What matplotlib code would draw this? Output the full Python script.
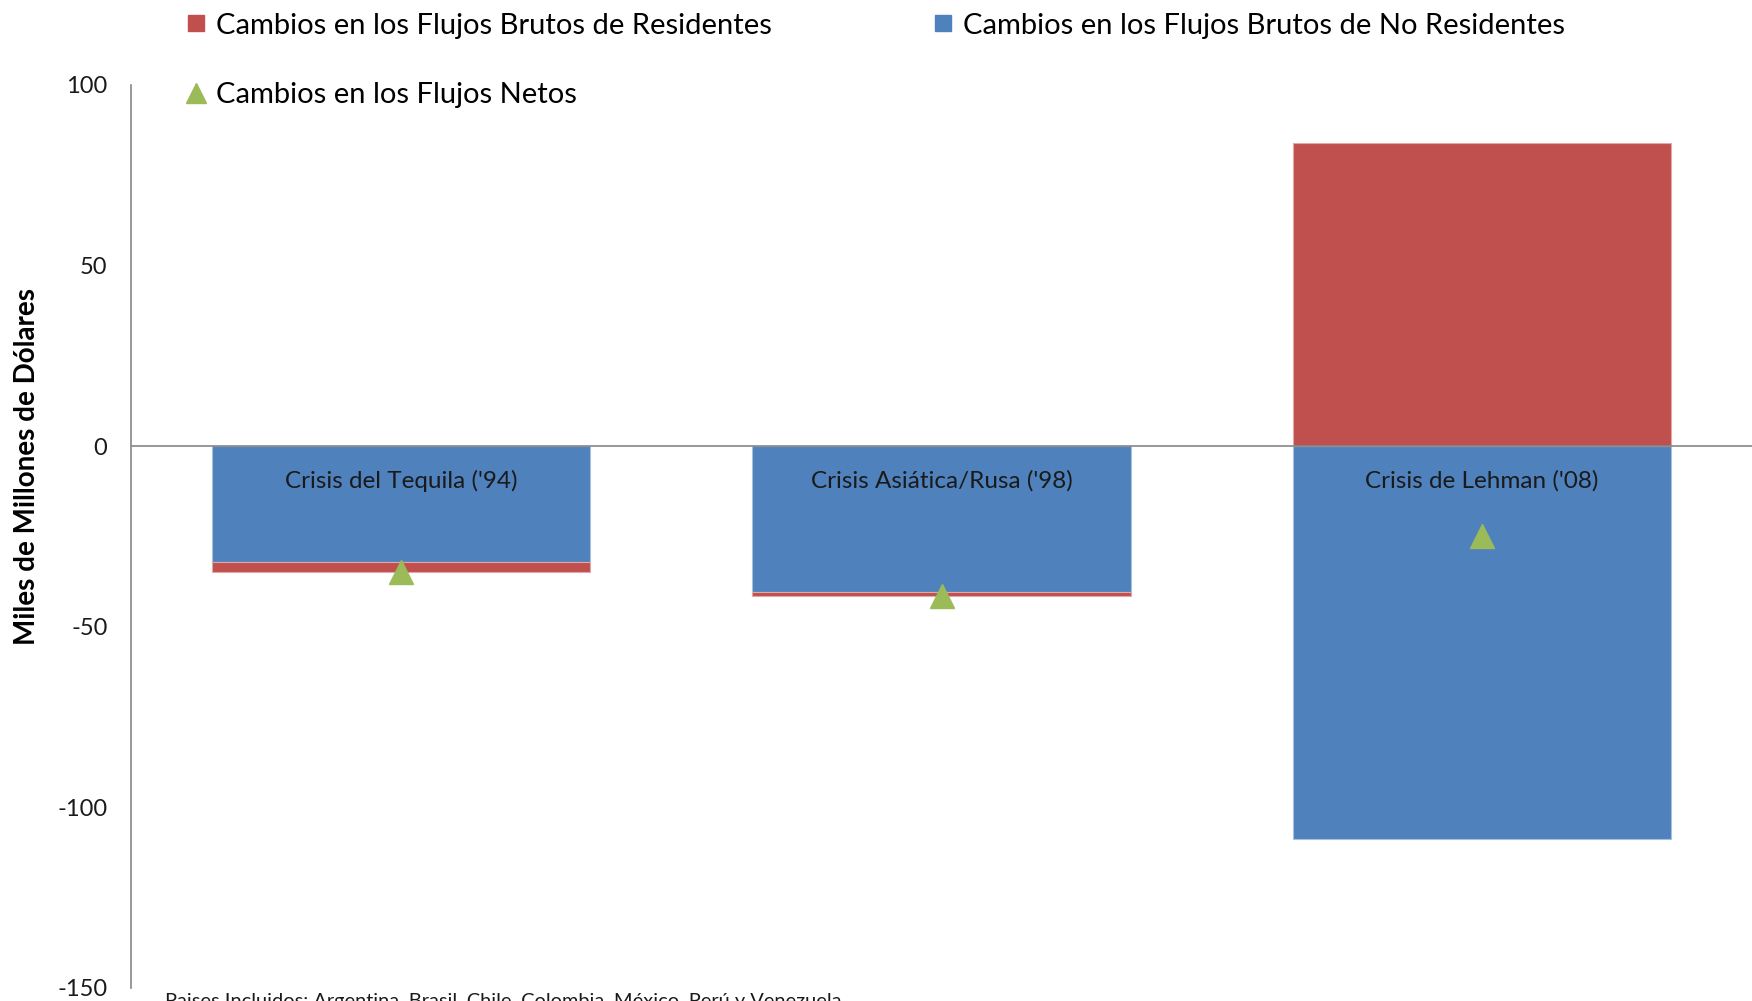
import numpy as np
import matplotlib.pyplot as plt
from matplotlib.lines import Line2D

plt.rcParams['font.family'] = ['Lato', 'DejaVu Sans']
plt.rcParams['axes.unicode_minus'] = False

# Miles de millones de dólares
crisis = ["Crisis del Tequila ('94)", "Crisis Asiática/Rusa ('98)", "Crisis de Lehman ('08)"]
no_residentes = [-32.2, -40.5, -108.8]
residentes = [-2.8, -0.9, 83.8]
netos = [-35.0, -41.4, -25.0]

rojo = '#C0504D'
azul = '#4F81BD'
verde = '#9BBB59'
gris = '#868686'

fig = plt.figure(figsize=(17.52, 10.01), dpi=100)
ax = fig.add_axes([0.0748, 0.0133, 0.9252, 0.9019])

x = np.arange(len(crisis))
nr = np.array(no_residentes)
r = np.array(residentes)
# los negativos se apilan debajo de la serie de no residentes
base_r = np.where(r < 0, np.minimum(nr, 0), 0)

ax.bar(x, nr, width=0.7, color=azul, edgecolor='#A7C0DE', linewidth=0.8, zorder=2)
ax.bar(x, r, width=0.7, bottom=base_r, color=rojo, edgecolor='#E0A8A6', linewidth=0.8, zorder=2)
ax.plot(x, netos, linestyle='none', marker='^', markersize=17, color=verde, zorder=4)

for xi, nombre in zip(x, crisis):
    ax.text(xi, -9.6, nombre, ha='center', va='center', fontsize=17.5, color='#1a1a1a', zorder=5)

ax.axhline(0, color=gris, linewidth=1.2, zorder=3)
ax.set_xlim(-0.5, 2.5)
ax.set_ylim(-150, 100)
ax.set_yticks([100, 50, 0, -50, -100, -150])
ax.tick_params(axis='y', length=0, labelsize=17, pad=17, labelcolor='#1a1a1a')
ax.set_xticks([])
for s in ['top', 'right', 'bottom']:
    ax.spines[s].set_visible(False)
ax.spines['left'].set_color(gris)
ax.spines['left'].set_linewidth(1.2)
ax.set_ylabel('Miles de Millones de Dólares', fontsize=20, fontweight='bold', va='center')
ax.yaxis.set_label_coords(-0.0643, 0.577)

handles = [
    Line2D([], [], linestyle='none', marker='s', markersize=11, color=rojo),
    Line2D([], [], linestyle='none', marker='^', markersize=14, color=verde),
    Line2D([], [], linestyle='none', marker='s', markersize=11, color=azul),
]
labels = ['Cambios en los Flujos Brutos de Residentes',
          'Cambios en los Flujos Netos',
          'Cambios en los Flujos Brutos de No Residentes']
fig.legend(handles, labels, ncol=2, loc='upper left', bbox_to_anchor=(0.1002, 0.999),
           frameon=False, fontsize=21, handlelength=0.6, handletextpad=0.4,
           columnspacing=5.55, labelspacing=1.5, borderaxespad=0)

fig.text(0.094, -0.006, 'Paises Incluidos: Argentina, Brasil, Chile, Colombia, México, Perú y Venezuela',
         fontsize=14.4, va='baseline', ha='left', color='#1a1a1a')

fig.savefig('out.png', dpi=100)
